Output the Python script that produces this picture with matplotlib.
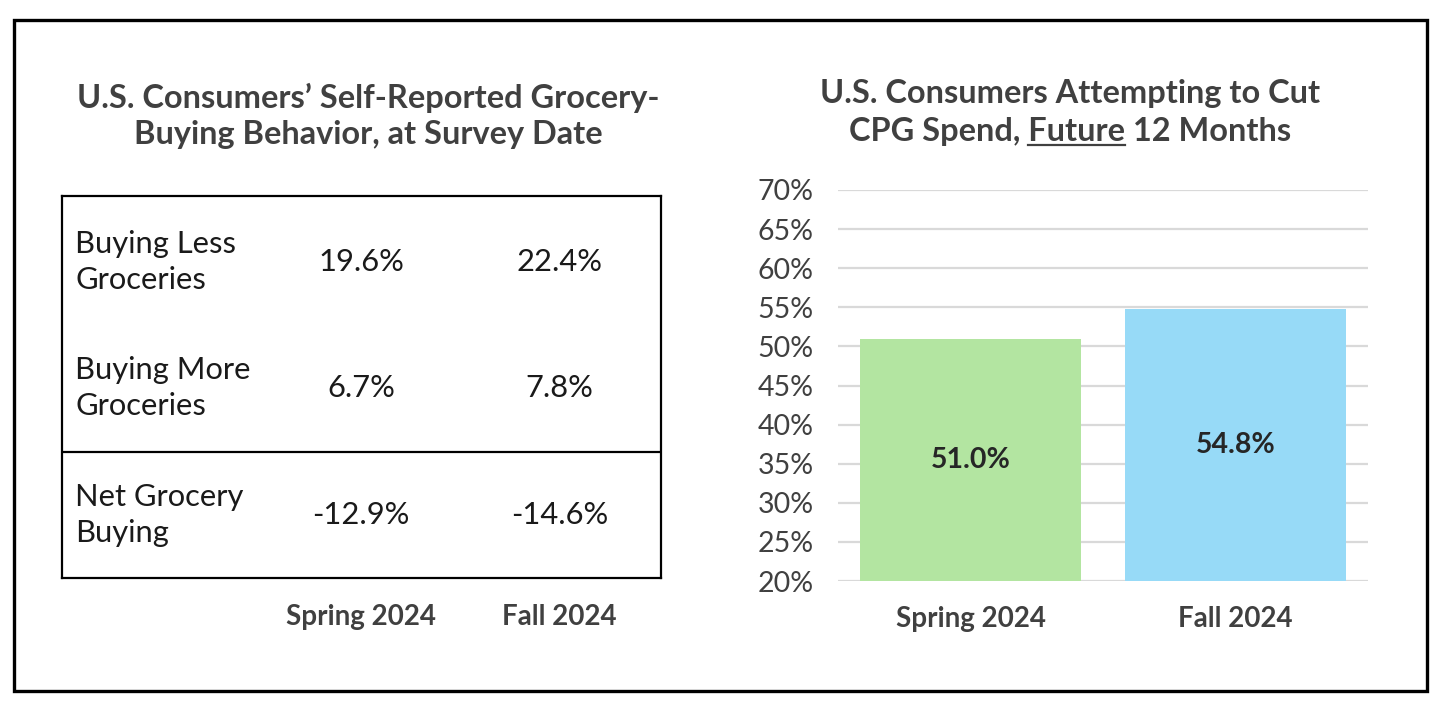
import numpy as np
import matplotlib
matplotlib.use("Agg")
from matplotlib import pyplot as plt
from matplotlib.patches import Rectangle
from matplotlib.lines import Line2D

# data
seasons = ["Spring 2024", "Fall 2024"]
row_labels = ["Buying Less\nGroceries", "Buying More\nGroceries", "Net Grocery\nBuying"]
spring_vals = [19.6, 6.7, -12.9]
fall_vals = [22.4, 7.8, -14.6]
cut_spend = [51.0, 54.8]
bar_colors = ["#b3e5a1", "#97daf7"]
y_ticks = [20, 25, 30, 35, 40, 45, 50, 55, 60, 65, 70]

title_left = "U.S. Consumers\u2019 Self-Reported Grocery-\nBuying Behavior, at Survey Date"
title_right_1 = "U.S. Consumers Attempting to Cut"
title_right_pre = "CPG Spend, "
title_right_ul = "Future"
title_right_post = " 12 Months"

plt.rcParams['font.family'] = ['Lato', 'DejaVu Sans']
dark = "#404040"
ink = "#1a1a1a"
title_fs = 23.4
table_fs = 22.2
label_fs = 20

fig = plt.figure(figsize=(14.4, 7.11), dpi=100)

# outer frame
fig.patches.append(Rectangle((14 / 1440, 20 / 711), 1413 / 1440, 671 / 711,
                             transform=fig.transFigure, fill=False,
                             edgecolor="black", linewidth=2.4))

# left: table
fig.text(368 / 1440, 1 - 116 / 711, title_left, ha="center", va="center",
         fontsize=title_fs, fontweight="bold", color=dark, linespacing=1.3)

tab = fig.add_axes([62 / 1440, 1 - 578 / 711, 599 / 1440, 382 / 711])
tab.set_xlim(0, 1)
tab.set_ylim(2.5, -0.52)
tab.set_xticks([])
tab.set_yticks([])
for s in tab.spines.values():
    s.set_linewidth(1.6)
    s.set_color("black")
tab.axhline(1.5, color="black", linewidth=1.6)

col_x = [0.499, 0.831]
for i, lab in enumerate(row_labels):
    tab.text(0.022, i, lab, ha="left", va="center", fontsize=table_fs,
             color=ink, linespacing=1.33)
    tab.text(col_x[0], i, "%.1f%%" % spring_vals[i], ha="center", va="center",
             fontsize=table_fs, color=ink)
    tab.text(col_x[1], i, "%.1f%%" % fall_vals[i], ha="center", va="center",
             fontsize=table_fs, color=ink)
for j, s in enumerate(seasons):
    tab.text(col_x[j], 2.81, s, ha="center", va="center", fontsize=label_fs,
             fontweight="bold", color=dark, clip_on=False)

# right: bar chart
ax = fig.add_axes([838 / 1440, 1 - 581 / 711, 530 / 1440, 391 / 711])
x = np.arange(len(seasons))
ax.bar(x, np.array(cut_spend) - y_ticks[0], bottom=y_ticks[0], width=0.833,
       color=bar_colors, zorder=3)
ax.set_xlim(-0.5, 1.5)
ax.set_ylim(y_ticks[0], y_ticks[-1])
ax.set_yticks(y_ticks)
ax.set_yticklabels(["%d%%" % t for t in y_ticks], fontsize=20.5, color=dark)
ax.set_xticks(x)
ax.set_xticklabels(seasons, fontsize=label_fs, fontweight="bold", color=dark)
ax.tick_params(axis="both", length=0)
ax.tick_params(axis="y", pad=17.5)
ax.tick_params(axis="x", pad=18)
ax.grid(axis="y", color="#d9d9d9", linewidth=1.6, zorder=0)
for s in ax.spines.values():
    s.set_visible(False)
for xi, v in zip(x, cut_spend):
    ax.text(xi, (v + y_ticks[0]) / 2, "%.1f%%" % v, ha="center", va="center",
            fontsize=20.5, fontweight="bold", color="#262626", zorder=4)

# right title with underlined word
cx = 1070 / 1440
fig.text(cx, 1 - 94 / 711, title_right_1, ha="center", va="center",
         fontsize=title_fs, fontweight="bold", color=dark)
y2 = 1 - 131 / 711
full = fig.text(cx, y2, title_right_pre + title_right_ul + title_right_post,
                ha="center", va="center", fontsize=title_fs, fontweight="bold",
                color=dark)
fig.canvas.draw()
r = fig.canvas.get_renderer()
fb = full.get_window_extent(r)
tmp = fig.text(0, 0, title_right_pre, fontsize=title_fs, fontweight="bold")
w_pre = tmp.get_window_extent(r).width
tmp.set_text(title_right_pre + title_right_ul)
w_ul = tmp.get_window_extent(r).width
tmp.remove()
W, H = fig.bbox.width, fig.bbox.height
x0 = (fb.x0 + w_pre) / W
x1 = (fb.x0 + w_ul) / W
yl = (fb.y0 + 1) / H
fig.lines.append(Line2D([x0, x1], [yl, yl], transform=fig.transFigure,
                        color=dark, linewidth=1.6))

fig.savefig("out.png", dpi=100)
